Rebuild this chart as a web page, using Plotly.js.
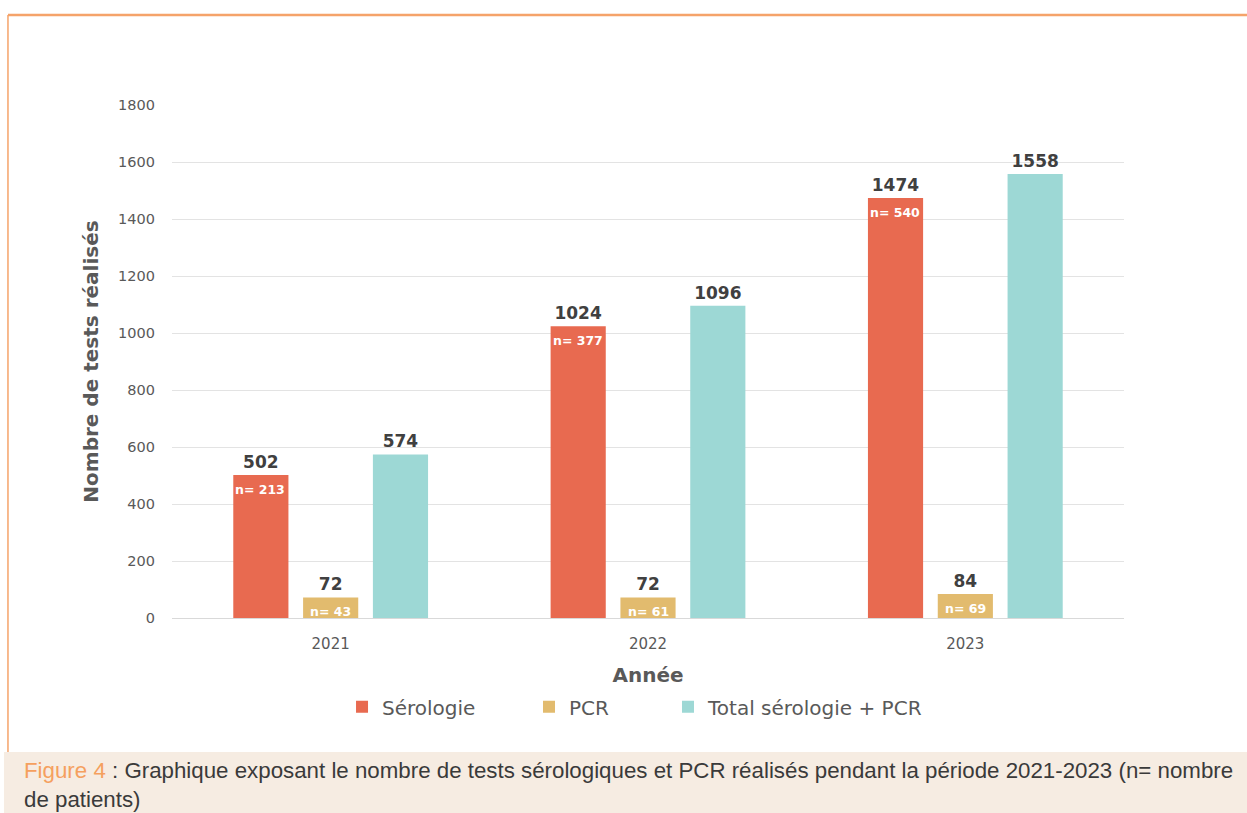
<!DOCTYPE html>
<html><head><meta charset="utf-8">
<script src="https://cdn.plot.ly/plotly-3.0.1.min.js"></script>
<style>html,body{margin:0;padding:0;background:#fff;}#chart{width:1247px;height:813px;}</style>
</head><body><div id="chart"></div>
<script>
const years = ['2021', '2022', '2023'];
const serologie = [502, 1024, 1474];
const pcr = [72, 72, 84];
const total = [574, 1096, 1558];
const serologiePatients = [213, 377, 540];
const pcrPatients = [43, 61, 69];
const seriesNames = ['Sérologie', 'PCR', 'Total sérologie + PCR'];
const colors = ['#E86A50', '#E2BB6E', '#9DD8D5'];

const FONT = 'DejaVu Sans, Verdana, sans-serif';
const valueFont = {family: FONT, size: 17, color: '#404040', weight: 'bold'};

function barTrace(name, vals, color, legendId) {
  return {
    type: 'bar', name: name, x: years, y: vals, legend: legendId,
    marker: {color: color},
    text: vals.map(String), textposition: 'outside',
    textfont: valueFont, cliponaxis: false
  };
}
const data = [
  barTrace(seriesNames[0], serologie, colors[0], 'legend'),
  barTrace(seriesNames[1], pcr, colors[1], 'legend2'),
  barTrace(seriesNames[2], total, colors[2], 'legend3')
];

const annotations = [];
function nLabels(vals, counts, shift) {
  years.forEach((yr, i) => {
    annotations.push({
      x: i, y: vals[i], xref: 'x', yref: 'y', xshift: shift, yshift: -5,
      yanchor: 'top', xanchor: 'center', showarrow: false,
      text: 'n= ' + counts[i],
      font: {family: FONT, size: 12.5, color: '#ffffff', weight: 'bold'}
    });
  });
}
nLabels(serologie, serologiePatients, -70.5);
nLabels(pcr, pcrPatients, 0);

annotations.push({
  xref: 'paper', yref: 'paper', x: -0.1576, y: -0.2690,
  xanchor: 'left', yanchor: 'top', align: 'left', showarrow: false,
  text: "<span style='color:#F5A05E'>Figure 4</span> : Graphique exposant le nombre de tests sérologiques et PCR réalisés pendant la période 2021-2023 (n= nombre<br>de patients)",
  font: {family: 'Liberation Sans, Arial, sans-serif', size: 22.3, color: '#3a3a3a'}
});

function legendAt(x) {
  return {
    orientation: 'h', x: x, xanchor: 'left', y: -0.135, yanchor: 'top',
    font: {family: FONT, size: 20, color: '#595959'}, itemwidth: 30, bgcolor: 'rgba(0,0,0,0)'
  };
}

const layout = {
  width: 1247, height: 813,
  margin: {l: 172, r: 123, t: 105, b: 195},
  paper_bgcolor: '#ffffff', plot_bgcolor: '#ffffff',
  barmode: 'group', bargap: 0.34, bargroupgap: 0.21,
  font: {family: FONT, color: '#595959'},
  xaxis: {
    type: 'category', range: [-0.5, 2.5], showgrid: false, showline: true, linecolor: '#d9d9d9', linewidth: 1,
    ticks: '', tickfont: {family: FONT, size: 15, color: '#595959'}, ticklabelstandoff: 12,
    title: {text: 'Année', font: {family: FONT, size: 20, color: '#595959', weight: 'bold'}, standoff: 15}
  },
  yaxis: {
    range: [0, 1800], dtick: 200, showgrid: true, gridcolor: '#e3e3e3', gridwidth: 1,
    zeroline: false, showline: false, ticks: '',
    tickfont: {family: FONT, size: 14.5, color: '#595959'}, ticklabelstandoff: 16,
    title: {text: 'Nombre de tests réalisés', font: {family: FONT, size: 20, color: '#595959', weight: 'bold'}, standoff: 14}
  },
  legend: legendAt(0.1786),
  legend2: legendAt(0.3750),
  legend3: legendAt(0.5210),
  showlegend: true,
  annotations: annotations,
  shapes: [
    {type: 'line', xref: 'paper', yref: 'paper', x0: -0.1723, x1: 1.13, y0: 1.1754, y1: 1.1754, line: {color: '#F5A36A', width: 2.5}},
    {type: 'line', xref: 'paper', yref: 'paper', x0: -0.1723, x1: -0.1723, y0: 1.1754, y1: -0.2612, line: {color: '#F5A36A', width: 1.5}},
    {type: 'rect', xref: 'paper', yref: 'paper', x0: -0.1765, x1: 1.13, y0: -0.3801, y1: -0.2612, fillcolor: '#F6ECE2', line: {width: 0}, layer: 'below'}
  ]
};
Plotly.newPlot('chart', data, layout, {displayModeBar: false, staticPlot: true});
</script></body></html>
